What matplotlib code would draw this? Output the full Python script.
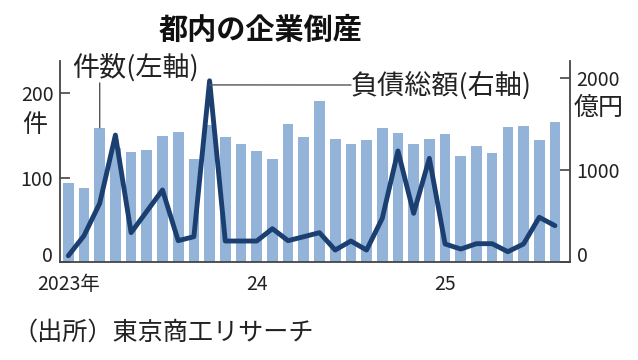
import matplotlib.pyplot as plt

plt.rcParams['font.family'] = ['Noto Sans CJK JP', 'DejaVu Sans']

# -----------------------------
# Data (2023-01 .. 2025-08)
# -----------------------------

months = list(range(32))

# bankruptcies per month (件, left axis)
counts = [93, 88, 159, 135, 130, 133, 149, 154, 122, 162, 148, 140,
          131, 122, 163, 148, 191, 146, 140, 144, 159, 153, 140, 146,
          152, 125, 137, 129, 160, 161, 144, 166]

# total debt (億円, right axis)
debt = [68, 286, 638, 1380, 319, 551, 783, 232, 275, 1970, 228, 228,
        228, 362, 232, 275, 319, 130, 228, 130, 475, 1207, 529, 1127,
        196, 141, 199, 199, 112, 196, 486, 395]

xtick_pos = [0, 12, 24]
xtick_labels = ['2023年', '24', '25']
left_ticks = [0, 100, 200]
right_ticks = [0, 1000, 2000]

# -----------------------------
# Style
# -----------------------------

BAR_COLOR = '#93b4d8'
LINE_COLOR = '#1c3f72'
TEXT_COLOR = '#222222'
AXIS_COLOR = '#444444'

W, H = 638, 360


def px(x, y):
    # image pixel (top-left origin) -> figure fraction
    return x / W, 1 - y / H


fig = plt.figure(figsize=(W / 100, H / 100), dpi=100)
ax = fig.add_axes([60.3 / W, 98 / H, 509.4 / W, 201 / H])
ax2 = ax.twinx()

# -----------------------------
# Marks
# -----------------------------

ax.bar(months, counts, width=0.68, color=BAR_COLOR, zorder=1)
ax2.plot(months, debt, color=LINE_COLOR, lw=3.5,
         solid_joinstyle='round', solid_capstyle='round')

ax.set_xlim(-0.51, 31.94)
ax.set_ylim(0, 238)
ax2.set_ylim(0, 2185)

# -----------------------------
# Axes
# -----------------------------

for s in ['top', 'right']:
    ax.spines[s].set_visible(False)
for s in ['top', 'left', 'bottom']:
    ax2.spines[s].set_visible(False)
for a, s in [(ax, 'left'), (ax, 'bottom'), (ax2, 'right')]:
    a.spines[s].set_color(AXIS_COLOR)
    a.spines[s].set_linewidth(1.3)

ax.set_xticks(xtick_pos)
ax.set_xticklabels(xtick_labels)
ax.tick_params(axis='x', length=0, pad=9, labelsize=14, labelcolor=TEXT_COLOR)

ax.set_yticks(left_ticks)
ax.set_yticklabels([str(v) for v in left_ticks])
ax.tick_params(axis='y', direction='in', length=7, width=1.2, color=AXIS_COLOR,
               pad=5, labelsize=14, labelcolor=TEXT_COLOR)

ax2.set_yticks(right_ticks)
ax2.set_yticklabels([str(v) for v in right_ticks])
ax2.tick_params(axis='y', direction='in', length=7, width=1.2, color=AXIS_COLOR,
                pad=5, labelsize=14, labelcolor=TEXT_COLOR)

# zero labels sit on the baseline instead of centred on it
ax.yaxis.get_major_ticks()[0].label1.set_va('baseline')
ax2.yaxis.get_major_ticks()[0].label2.set_va('baseline')

# -----------------------------
# Labels / annotations
# -----------------------------

ax.annotate('', xy=(2, counts[2]), xytext=(2, 212),
            arrowprops=dict(arrowstyle='-', color='#555555', lw=1.0,
                            shrinkA=0, shrinkB=0),
            annotation_clip=False)
fig.text(*px(72, 68), '件数(左軸)', ha='left', va='center',
         fontsize=19.5, color=TEXT_COLOR)

ax2.annotate('', xy=(9, 1925), xytext=(351, H - 85), textcoords='figure pixels',
             arrowprops=dict(arrowstyle='-', color='#555555', lw=1.0,
                             shrinkA=0, shrinkB=0),
             annotation_clip=False)
fig.text(*px(351, 86), '負債総額(右軸)', ha='left', va='center',
         fontsize=19.5, color=TEXT_COLOR)

fig.text(*px(35, 125), '件', ha='center', va='center', fontsize=18, color=TEXT_COLOR)
fig.text(*px(574, 108), '億円', ha='left', va='center', fontsize=18, color=TEXT_COLOR)

fig.text(*px(261, 30), '都内の企業倒産', ha='center', va='center',
         fontsize=21, fontweight='bold', color='#111111')

fig.text(*px(13, 333), '（出所）東京商工リサーチ', ha='left', va='center',
         fontsize=18.1, color=TEXT_COLOR)

fig.savefig('out.png', dpi=100)
